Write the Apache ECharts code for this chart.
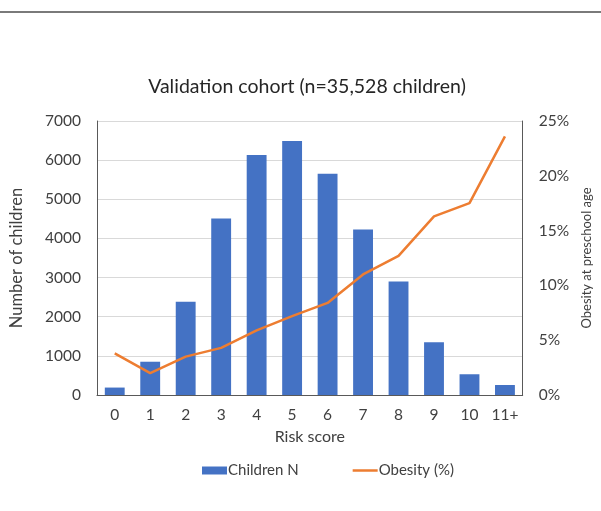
<!DOCTYPE html>
<html>
<head>
<meta charset="utf-8">
<script src="https://cdn.jsdelivr.net/npm/echarts@6/dist/echarts.min.js"></script>
<style>
  html, body { margin: 0; padding: 0; background: #fff; }
  #chart { width: 601px; height: 511px; }
</style>
</head>
<body>
<div id="chart"></div>
<script>
// risk score categories
const riskScores = ['0', '1', '2', '3', '4', '5', '6', '7', '8', '9', '10', '11+']
// number of children per score
const childrenN = [190, 850, 2380, 4510, 6130, 6490, 5650, 4230, 2900, 1350, 530, 255]
// obesity at preschool age, percent
const obesityPct = [3.8, 2.0, 3.5, 4.3, 5.9, 7.2, 8.4, 11.0, 12.7, 16.3, 17.5, 23.6]

const font = 'Lato, "Open Sans", sans-serif'
const textColor = '#404040'

const chart = echarts.init(document.getElementById('chart'))
const option = {
  animation: false,
  textStyle: { fontFamily: font },
  title: {
    text: 'Validation cohort (n=35,528 children)',
    left: 302,
    textAlign: 'center',
    top: 72,
    textStyle: { color: '#262626', fontSize: 19.5, fontWeight: 'normal', fontFamily: font }
  },
  graphic: [{
    type: 'line',
    shape: { x1: 0, y1: 12, x2: 601, y2: 12 },
    style: { stroke: '#7a7a7a', lineWidth: 2 }
  }],
  legend: {
    left: 197,
    top: 458,
    itemWidth: 25,
    itemHeight: 8,
    itemGap: 54,
    textStyle: { color: textColor, fontSize: 15, fontFamily: font, padding: [0, 0, 0, -4] },
    data: [
      { name: 'Children N', icon: 'rect' },
      { name: 'Obesity (%)', icon: 'path://M0,0 L25,0 L25,2.5 L0,2.5 Z', itemStyle: { color: '#ED7D31' } }
    ]
  },
  grid: { left: 96, right: 72, top: 121, bottom: 116 },
  xAxis: {
    type: 'category',
    data: riskScores,
    name: 'Risk score',
    nameLocation: 'middle',
    nameGap: 34,
    nameTextStyle: { color: textColor, fontSize: 16, fontFamily: font },
    axisLine: { lineStyle: { color: '#595959', width: 1 } },
    axisTick: { show: false },
    axisLabel: { color: textColor, fontSize: 15.5, margin: 12, fontFamily: font }
  },
  yAxis: [{
    type: 'value',
    min: 0,
    max: 7000,
    interval: 1000,
    name: 'Number of children',
    nameLocation: 'middle',
    nameGap: 72,
    nameTextStyle: { color: textColor, fontSize: 16.5, fontFamily: font },
    axisLine: { show: true, lineStyle: { color: '#595959', width: 1 } },
    axisTick: { show: false },
    axisLabel: { color: textColor, fontSize: 15.5, margin: 16, fontFamily: font, formatter: function (v) { return String(v) } },
    splitLine: { lineStyle: { color: '#d9d9d9', width: 1 } }
  }, {
    type: 'value',
    min: 0,
    max: 25,
    interval: 5,
    position: 'right',
    name: 'Obesity at preschool age',
    nameLocation: 'middle',
    nameGap: 54,
    nameTextStyle: { color: textColor, fontSize: 13, fontFamily: font },
    axisLine: { show: true, lineStyle: { color: '#595959', width: 1 } },
    axisTick: { show: false },
    axisLabel: { color: textColor, fontSize: 15.5, margin: 16, formatter: '{value}%', fontFamily: font },
    splitLine: { show: false }
  }],
  series: [{
    name: 'Children N',
    type: 'bar',
    data: childrenN,
    barWidth: '56%',
    itemStyle: { color: '#4472C4' }
  }, {
    name: 'Obesity (%)',
    type: 'line',
    yAxisIndex: 1,
    data: obesityPct,
    symbol: 'none',
    lineStyle: { color: '#ED7D31', width: 2.5 },
    itemStyle: { color: '#ED7D31' }
  }]
}
chart.setOption(option)
</script>
</body>
</html>
